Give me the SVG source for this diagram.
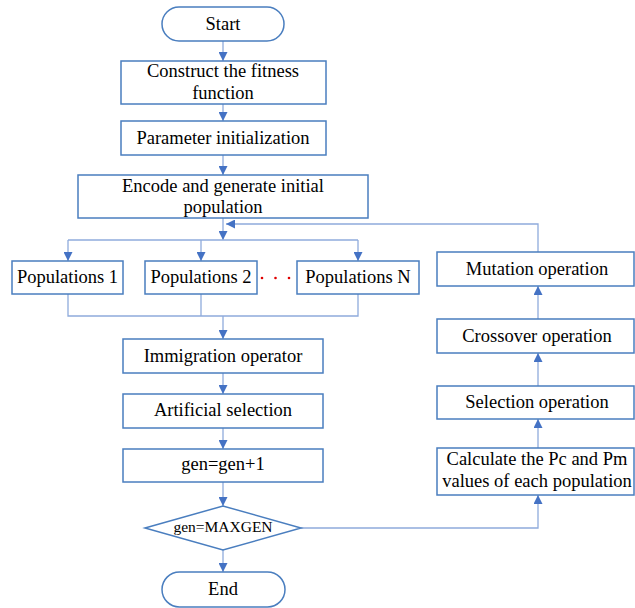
<svg xmlns="http://www.w3.org/2000/svg" width="635" height="608" viewBox="0 0 635 608">
<defs>
<marker id="ah" viewBox="0 0 10 10" refX="10" refY="5" markerWidth="9" markerHeight="9" markerUnits="userSpaceOnUse" orient="auto">
<path d="M0,0 L10,5 L0,10 z" fill="#4472c4"/>
</marker>
<style>
.box{fill:#fff;stroke:#4a7ebf;stroke-width:1.5}
.t{font-family:"Liberation Serif","Times New Roman",serif;font-size:18.5px;fill:#000;text-anchor:middle}
.c{fill:none;stroke:#8fabdc;stroke-width:1.3}
.a{fill:none;stroke:#8fabdc;stroke-width:1.3;marker-end:url(#ah)}
</style>
</defs>
<rect width="635" height="608" fill="#fff"/>
<g id="connectors">
<line class="a" x1="223" y1="41" x2="223" y2="61"/>
<line class="a" x1="223" y1="104" x2="223" y2="121"/>
<line class="a" x1="223" y1="155" x2="223" y2="175"/>
<line class="a" x1="223" y1="218" x2="223" y2="240"/>
<path class="c" d="M68,240 H358"/>
<line class="a" x1="68" y1="240" x2="68" y2="261"/>
<line class="a" x1="201" y1="240" x2="201" y2="261"/>
<line class="a" x1="358" y1="240" x2="358" y2="261"/>
<path class="c" d="M68,294 V316 H358 V294 M201,294 V316"/>
<line class="a" x1="223" y1="316" x2="223" y2="339"/>
<line class="a" x1="223" y1="373" x2="223" y2="394"/>
<line class="a" x1="223" y1="428" x2="223" y2="449"/>
<line class="a" x1="223" y1="482" x2="223" y2="506"/>
<line class="a" x1="223" y1="550" x2="223" y2="572"/>
<path class="a" d="M301,528 H538 V495"/>
<line class="a" x1="538" y1="448" x2="538" y2="419"/>
<line class="a" x1="538" y1="386" x2="538" y2="353"/>
<line class="a" x1="538" y1="319" x2="538" y2="286"/>
<path class="a" d="M538,252 V224 H226"/>
</g>
<g id="start"><rect class="box" x="162" y="7" width="122" height="34" rx="17"/><text class="t" x="223" y="30">Start</text></g>
<g id="fitness"><rect class="box" x="121" y="61" width="205" height="43"/><text class="t" x="223" y="77">Construct the fitness</text><text class="t" x="223" y="99">function</text></g>
<g id="param"><rect class="box" x="121" y="121" width="205" height="34"/><text class="t" x="223" y="144">Parameter initialization</text></g>
<g id="encode"><rect class="box" x="78" y="175" width="290" height="43"/><text class="t" x="223" y="192">Encode and generate initial</text><text class="t" x="223" y="213">population</text></g>
<g id="pop1"><rect class="box" x="12" y="261" width="111" height="33"/><text class="t" x="67.5" y="283">Populations 1</text></g>
<g id="pop2"><rect class="box" x="145" y="261" width="112" height="33"/><text class="t" x="201" y="283">Populations 2</text></g>
<g id="dots" fill="#e00000"><circle cx="262" cy="278" r="1.3"/><circle cx="275.5" cy="278" r="1.3"/><circle cx="289" cy="278" r="1.3"/></g>
<g id="popN"><rect class="box" x="297" y="261" width="122" height="33"/><text class="t" x="358" y="283">Populations N</text></g>
<g id="immig"><rect class="box" x="123" y="339" width="200" height="34"/><text class="t" x="223" y="362">Immigration operator</text></g>
<g id="artsel"><rect class="box" x="123" y="394" width="200" height="34"/><text class="t" x="223" y="416">Artificial selection</text></g>
<g id="gen"><rect class="box" x="123" y="449" width="200" height="33"/><text class="t" x="223" y="470">gen=gen+1</text></g>
<g id="decision"><polygon class="box" points="145,528 223,506 301,528 223,550"/><text class="t" x="223" y="532" style="font-size:15.5px">gen=MAXGEN</text></g>
<g id="end"><rect class="box" x="162" y="572" width="123" height="35" rx="17.5"/><text class="t" x="223" y="595">End</text></g>
<g id="mutation"><rect class="box" x="437" y="252" width="197" height="34"/><text class="t" x="537" y="275">Mutation operation</text></g>
<g id="crossover"><rect class="box" x="437" y="319" width="197" height="34"/><text class="t" x="537" y="342">Crossover operation</text></g>
<g id="selection"><rect class="box" x="437" y="386" width="197" height="33"/><text class="t" x="537" y="408">Selection operation</text></g>
<g id="calc"><rect class="box" x="437" y="448" width="197" height="47"/><text class="t" x="537" y="465">Calculate the Pc and Pm</text><text class="t" x="537" y="487">values of each population</text></g>
</svg>
